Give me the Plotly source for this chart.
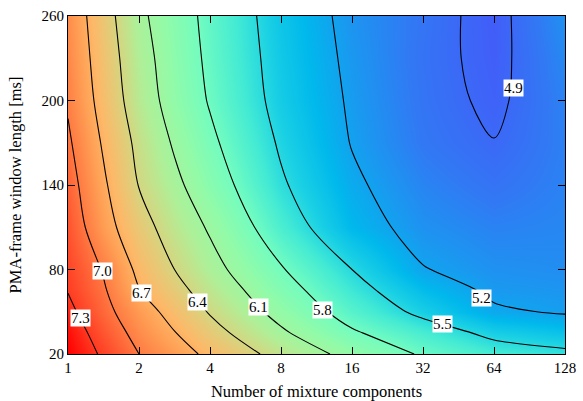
import plotly.graph_objects as go

# x positions as log2(number of mixture components)
x_log2 = [0, 0.5, 1, 1.5, 2, 3, 4, 5, 6, 7]
y_ms = [20, 35, 50, 65, 80, 110, 140, 170, 200, 230, 260]

z_rows = [
    [7.50, 7.26, 7.00, 6.82, 6.64, 6.30, 6.01, 5.77, 5.62, 5.55],  # 20
    [7.46, 7.17, 6.91, 6.71, 6.50, 6.14, 5.83, 5.63, 5.44, 5.36],  # 35
    [7.37, 7.08, 6.83, 6.60, 6.38, 6.01, 5.69, 5.44, 5.23, 5.18],  # 50
    [7.29, 7.03, 6.71, 6.49, 6.28, 5.91, 5.59, 5.33, 5.16, 5.14],  # 65
    [7.25, 6.98, 6.64, 6.40, 6.19, 5.82, 5.50, 5.21, 5.12, 5.10],  # 80
    [7.18, 6.81, 6.51, 6.27, 6.07, 5.64, 5.30, 5.12, 5.05, 5.07],  # 110
    [7.11, 6.74, 6.39, 6.16, 5.94, 5.53, 5.24, 5.06, 4.97, 5.05],  # 140
    [7.04, 6.67, 6.33, 6.07, 5.85, 5.47, 5.19, 5.00, 4.905, 5.04],  # 170
    [6.97, 6.60, 6.25, 5.99, 5.78, 5.42, 5.17, 4.98, 4.86, 5.05],  # 200
    [6.93, 6.56, 6.21, 5.96, 5.75, 5.40, 5.15, 4.97, 4.84, 5.08],  # 230
    [6.90, 6.52, 6.16, 5.93, 5.73, 5.38, 5.13, 4.98, 4.83, 5.12],  # 260
]

x_tick_vals = [0, 1, 2, 3, 4, 5, 6, 7]
x_tick_text = ["1", "2", "4", "8", "16", "32", "64", "128"]
y_tick_vals = [20, 80, 140, 200, 260]

# contour label placement (log2 x, y, text)
label_x = [0.17, 0.48, 1.04, 1.83, 2.68, 3.59, 5.28, 5.83, 6.27]
label_y = [45.6, 79, 63.4, 57, 53.4, 51.3, 41.3, 59.8, 208.9]
label_text = ["7.3", "7.0", "6.7", "6.4", "6.1", "5.8", "5.5", "5.2", "4.9"]

zmin, zmax = 4.8, 7.5
stops = [
    (7.5, "#ff0000"), (7.3, "#ff3a22"), (7.0, "#ff7a42"), (6.8, "#ffa055"),
    (6.65, "#fdb868"), (6.5, "#e6c976"), (6.35, "#cbdc86"), (6.2, "#aef098"),
    (6.0, "#92fba8"), (5.8, "#72fcc0"), (5.6, "#42ead4"), (5.45, "#1ad0e4"),
    (5.3, "#00b8ec"), (5.15, "#1a98f0"), (5.0, "#3278f4"), (4.85, "#4060f8"),
    (4.8, "#4458f8"),
]
colorscale = sorted([[(v - zmin) / (zmax - zmin), c] for v, c in stops])

FONT = "Liberation Serif"

fig = go.Figure()
fig.add_trace(go.Contour(
    x=x_log2, y=y_ms, z=z_rows,
    zmin=zmin, zmax=zmax, zauto=False,
    colorscale=colorscale, showscale=False,
    contours=dict(start=4.9, end=7.3, size=0.3, coloring="heatmap", showlabels=False),
    line=dict(color="black", width=1.1, smoothing=1),
    hoverinfo="skip",
))

for lx, ly, lt in zip(label_x, label_y, label_text):
    fig.add_annotation(x=lx, y=ly, text=lt, showarrow=False,
                       font=dict(family=FONT, size=15, color="black"),
                       bgcolor="white", borderpad=0)

axis_common = dict(showline=True, linecolor="black", linewidth=1.2, mirror="ticks",
                   ticks="inside", ticklen=7, tickwidth=1.2, tickcolor="black",
                   showgrid=False, zeroline=False, automargin=False,
                   tickfont=dict(family=FONT, size=15, color="black"))

fig.update_xaxes(range=[0, 7], tickvals=x_tick_vals, ticktext=x_tick_text,
                 title=dict(text="Number of mixture components",
                            font=dict(family=FONT, size=16.5, color="black")),
                 **axis_common)
fig.update_yaxes(range=[20, 260], tickvals=y_tick_vals,
                 title=dict(text="PMA-frame window length [ms]",
                            font=dict(family=FONT, size=16.5, color="black")),
                 **axis_common)

fig.update_layout(width=583, height=401, margin=dict(l=68, r=18, t=16, b=47),
                  paper_bgcolor="white", plot_bgcolor="white", showlegend=False)

fig.write_html("out.html")
